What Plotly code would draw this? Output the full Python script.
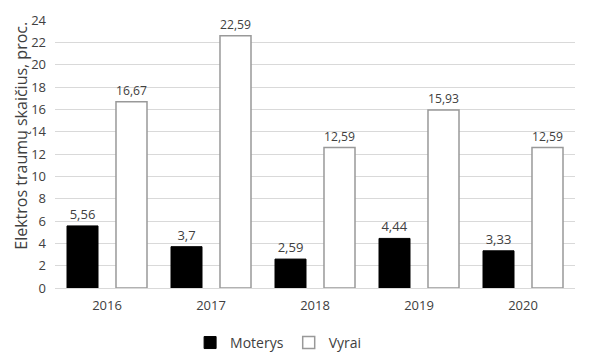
import plotly.graph_objects as go

years = ["2016", "2017", "2018", "2019", "2020"]
moterys = [5.56, 3.7, 2.59, 4.44, 3.33]
vyrai = [16.67, 22.59, 12.59, 15.93, 12.59]
y_ticks = list(range(0, 25, 2))

def fmt(v):
    return str(v).replace(".", ",")

FONT = "Open Sans"
TXT = "#404040"
fig = go.Figure()
fig.add_trace(go.Bar(
    x=years, y=moterys, name="Moterys",
    marker=dict(color="#000000", line=dict(color="#000000", width=1)),
    text=[fmt(v) for v in moterys], textposition="outside",
    textfont=dict(family=FONT, size=13, color=TXT), cliponaxis=False,
))
fig.add_trace(go.Bar(
    x=years, y=vyrai, name="Vyrai",
    marker=dict(color="#FFFFFF", line=dict(color="#999999", width=1.5)),
    text=[fmt(v) for v in vyrai], textposition="outside",
    textfont=dict(family=FONT, size=13, color=TXT), cliponaxis=False,
))
fig.update_layout(
    width=600, height=364,
    margin=dict(l=47, r=33, t=12, b=84, autoexpand=False),
    paper_bgcolor="white", plot_bgcolor="white",
    barmode="group", bargap=0.058, bargroupgap=0.367,
    font=dict(family=FONT, size=12, color=TXT),
    showlegend=True,
    legend=dict(orientation="h", x=0.43, xanchor="center", y=-0.205, yanchor="middle",
                font=dict(family=FONT, size=14, color=TXT), itemwidth=30),
    xaxis=dict(showgrid=False, showline=True, linecolor="#D9D9D9", linewidth=1,
               automargin=False, ticks="", ticklabelstandoff=5,
               tickfont=dict(family=FONT, size=13, color=TXT)),
    yaxis=dict(range=[0, 24], tickvals=y_ticks, showgrid=True, gridcolor="#D9D9D9",
               gridwidth=1, zeroline=False, showline=False, ticks="", automargin=False,
               ticklabelstandoff=8,
               tickfont=dict(family=FONT, size=13, color=TXT)),
    annotations=[dict(text="Elektros traumų skaičius, proc.", textangle=-90,
                      xref="paper", yref="paper", x=-0.066, y=0.567,
                      xanchor="center", yanchor="middle", showarrow=False,
                      font=dict(family=FONT, size=16, color=TXT))],
)
fig.write_html("out.html")
